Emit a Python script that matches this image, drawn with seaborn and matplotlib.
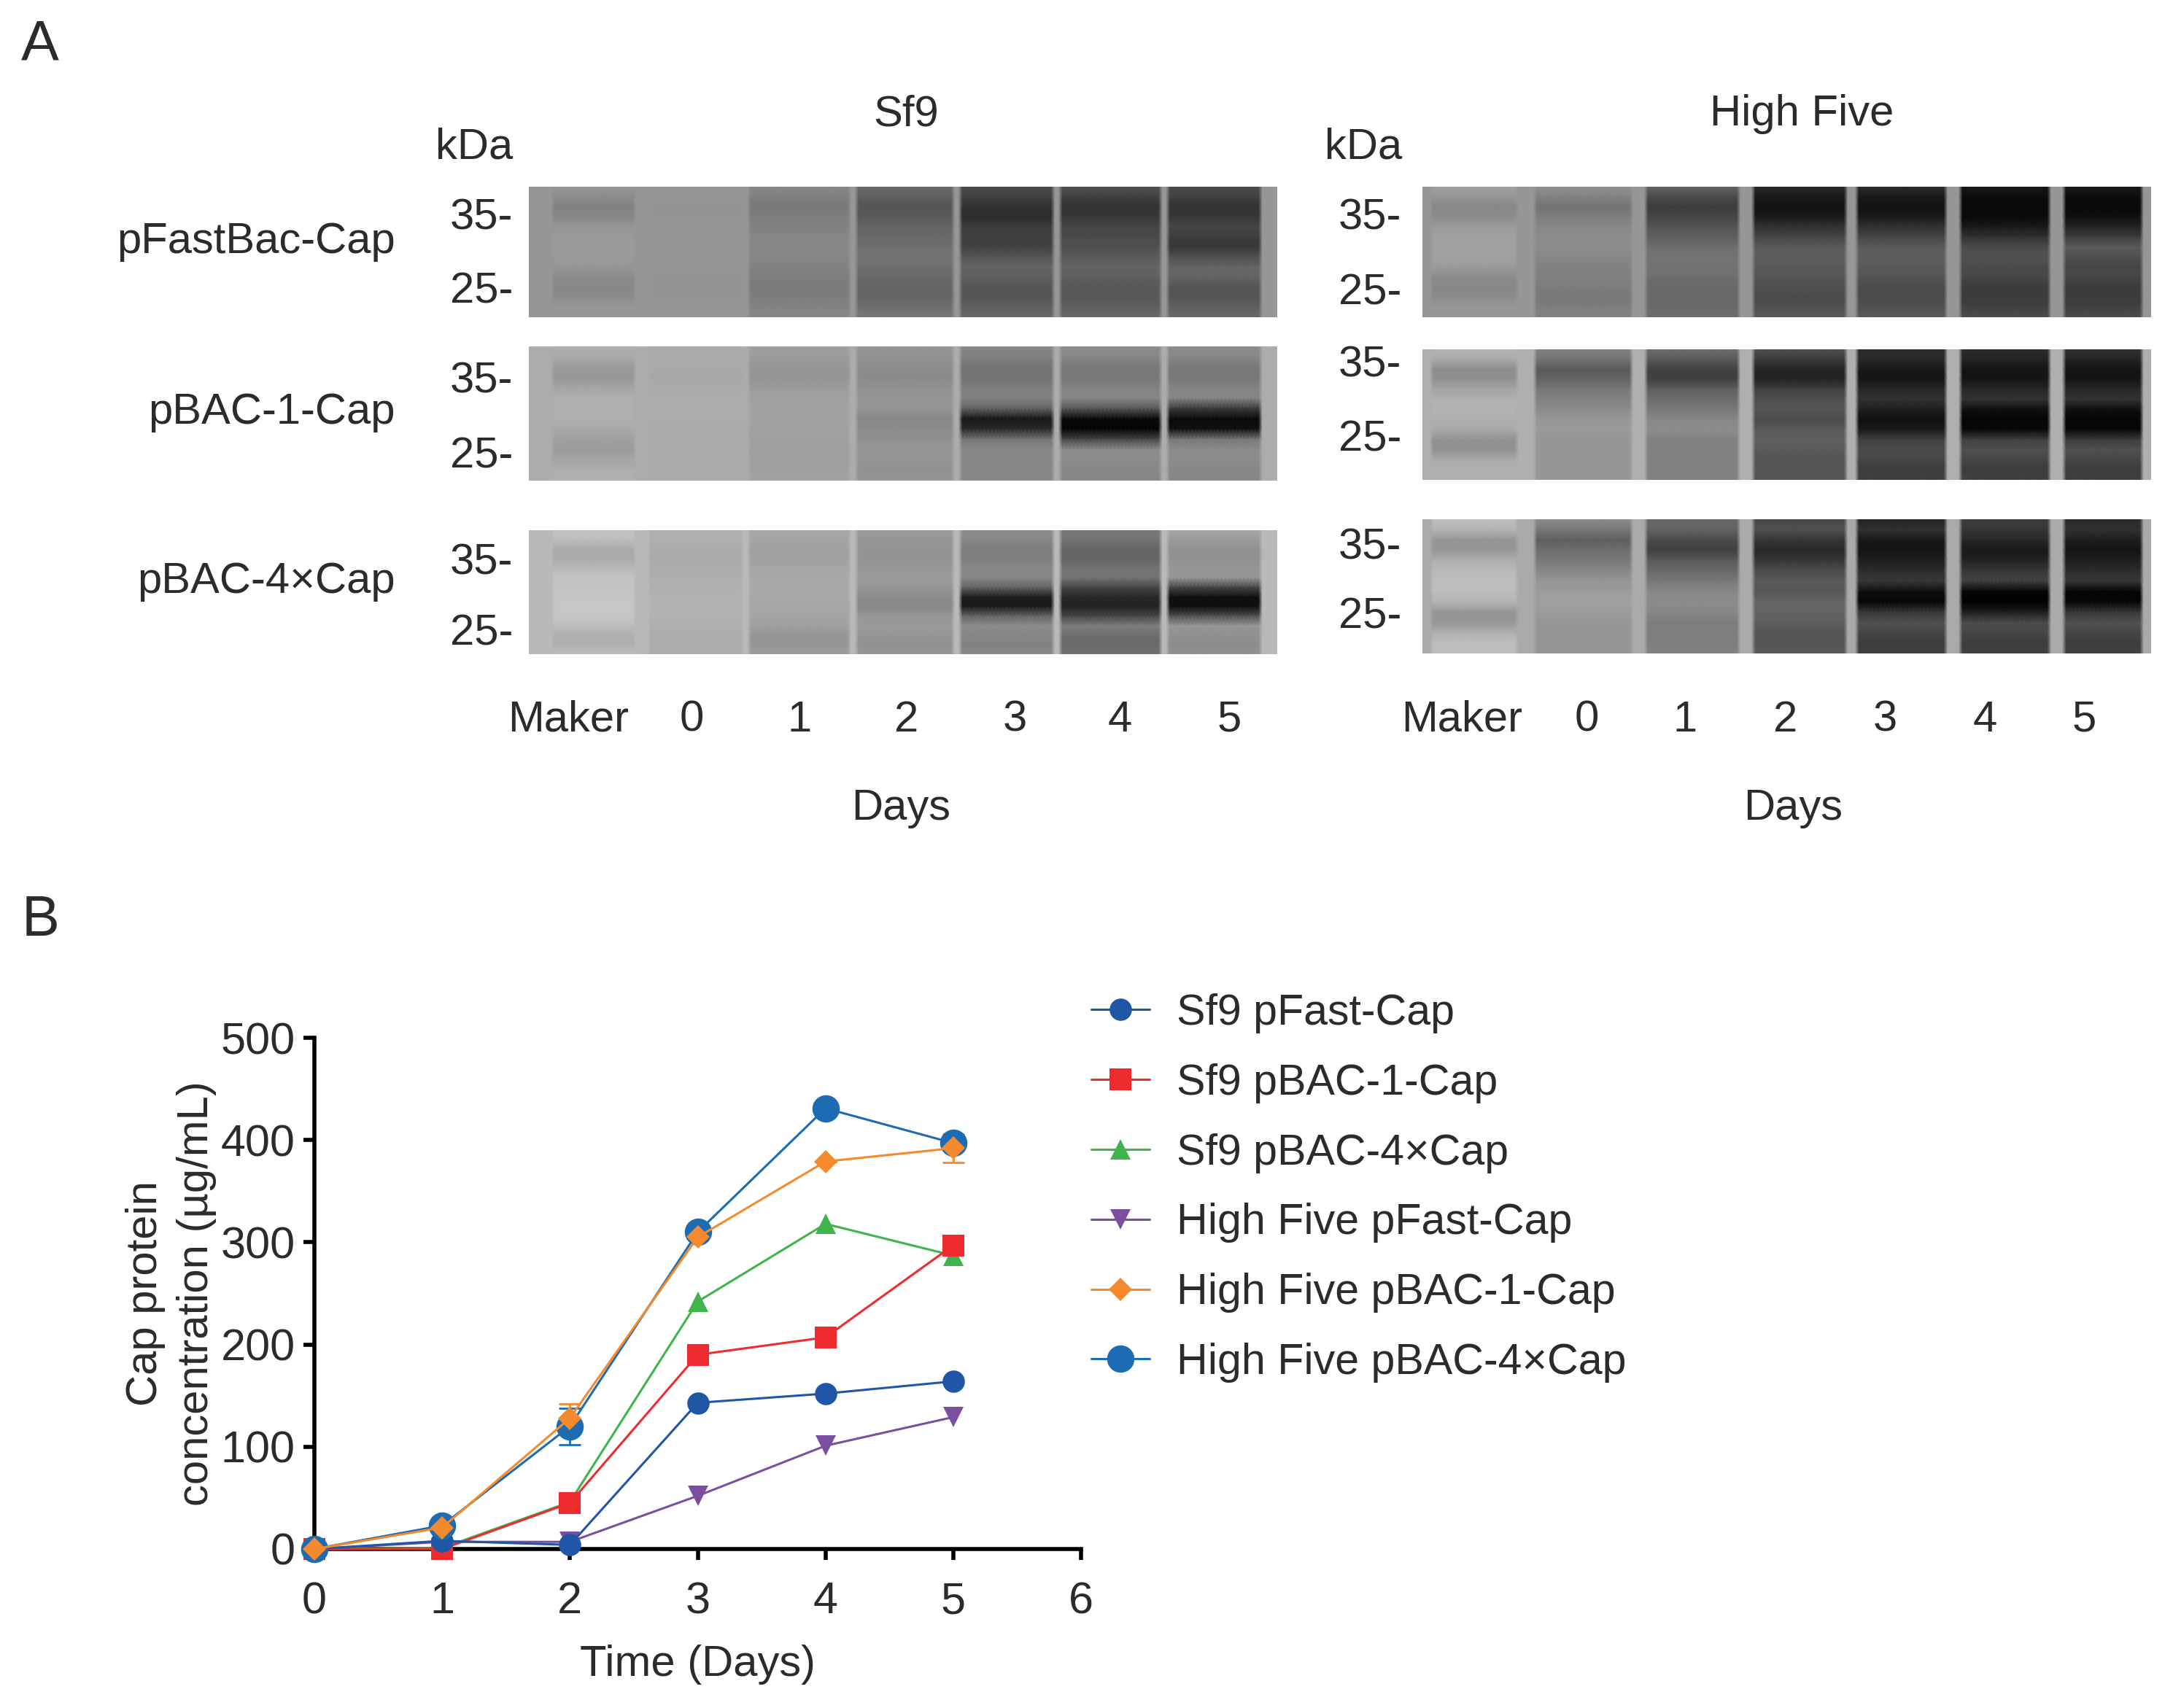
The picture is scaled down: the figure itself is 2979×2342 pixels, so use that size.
import numpy as np
import matplotlib
matplotlib.use("Agg")
import matplotlib.pyplot as plt
import seaborn as sns

sns.set_style("white")
plt.rcParams['font.family'] = ['Liberation Sans', 'DejaVu Sans']

W, H = 2979, 2342
DPI = 100
INK = "#2b2b2b"

# ---------- panel B data ----------
days = [0, 1, 2, 3, 4, 5]
series_names = ["Sf9 pFast-Cap", "Sf9 pBAC-1-Cap", "Sf9 pBAC-4×Cap",
                "High Five pFast-Cap", "High Five pBAC-1-Cap", "High Five pBAC-4×Cap"]
sf9_pfast = [0, 8, 4, 143, 152, 164]
sf9_pbac1 = [0, 0, 45, 190, 207, 297]
sf9_pbac4 = [0, 1, 46, 242, 318, 287]
hf_pfast = [0, 7, 7, 52, 101, 129]
hf_pbac1 = [0, 21, 128, 305, 379, 392]
hf_pbac4 = [0, 23, 120, 310, 431, 397]
hf_pbac1_err = [0, 0, 14, 0, 0, 14]
hf_pbac4_err = [0, 0, 18, 0, 0, 7]
series_values = [sf9_pfast, sf9_pbac1, sf9_pbac4, hf_pfast, hf_pbac1, hf_pbac4]
series_colors = ["#1f57a6", "#ee2b2f", "#3fb44c", "#7b4f9f", "#f58a2c", "#1c6bb3"]
series_markers = ["o", "s", "^", "v", "D", "o"]
series_msize = [22, 22, 20, 20, 16, 27]
series_z = [6, 5, 3, 4, 8, 7]

# ---------- panel A data: grey level per lane (Maker, 0..5), top to bottom ----------
gel_sf9_pfast = [
    [150, 140, 130, 135, 150, 155, 155, 155, 150, 140, 135, 140, 150, 150],
    [150, 150, 148, 148, 150, 150, 150, 150, 150, 148, 148, 148, 150, 150],
    [135, 128, 120, 125, 130, 135, 135, 135, 130, 125, 122, 125, 130, 135],
    [105, 95, 85, 90, 100, 105, 110, 115, 110, 105, 100, 100, 110, 120],
    [75, 65, 50, 45, 60, 65, 65, 85, 100, 95, 85, 85, 95, 105],
    [80, 65, 50, 55, 70, 75, 80, 90, 100, 95, 88, 88, 95, 105],
    [75, 65, 50, 55, 70, 60, 55, 80, 100, 100, 85, 85, 95, 105],
]
gel_sf9_pbac1 = [
    [175, 170, 155, 150, 165, 175, 175, 175, 170, 160, 155, 165, 175, 175],
    [170, 170, 170, 168, 170, 172, 172, 172, 170, 170, 170, 170, 170, 172],
    [160, 155, 150, 148, 155, 160, 162, 162, 160, 160, 158, 158, 160, 162],
    [150, 145, 140, 138, 145, 150, 150, 135, 140, 145, 150, 150, 145, 150],
    [135, 130, 115, 115, 125, 130, 100, 25, 40, 120, 135, 135, 135, 135],
    [140, 135, 120, 120, 130, 135, 90, 10, 5, 70, 140, 140, 135, 135],
    [140, 135, 120, 120, 130, 135, 60, 10, 15, 120, 140, 140, 135, 135],
]
gel_sf9_pbac4 = [
    [195, 190, 170, 170, 185, 195, 195, 198, 198, 198, 190, 175, 175, 190],
    [175, 175, 172, 170, 172, 175, 175, 178, 178, 178, 175, 172, 172, 172],
    [165, 165, 160, 160, 165, 168, 168, 168, 165, 165, 160, 150, 150, 155],
    [155, 150, 148, 148, 152, 155, 150, 140, 135, 150, 155, 150, 145, 150],
    [140, 135, 125, 125, 135, 135, 100, 30, 25, 100, 140, 135, 130, 135],
    [120, 115, 100, 100, 115, 115, 70, 40, 35, 70, 125, 110, 105, 110],
    [165, 155, 145, 145, 150, 150, 70, 15, 15, 80, 150, 145, 140, 145],
]
gel_hf_pfast = [
    [160, 150, 135, 140, 155, 160, 160, 160, 155, 140, 135, 140, 150, 150],
    [145, 130, 115, 125, 135, 140, 140, 135, 130, 128, 125, 120, 125, 130],
    [100, 75, 60, 70, 85, 95, 110, 115, 115, 110, 105, 105, 105, 110],
    [40, 25, 18, 25, 50, 70, 90, 95, 90, 85, 80, 75, 80, 90],
    [45, 25, 18, 25, 50, 70, 90, 95, 90, 85, 75, 75, 80, 90],
    [25, 12, 8, 10, 25, 50, 75, 80, 75, 70, 60, 60, 65, 75],
    [25, 12, 8, 15, 35, 60, 90, 80, 70, 70, 60, 60, 65, 75],
]
gel_hf_pbac1 = [
    [180, 170, 140, 145, 165, 175, 180, 175, 170, 145, 145, 170, 175, 175],
    [130, 115, 90, 100, 120, 130, 140, 150, 155, 150, 150, 150, 150, 150],
    [110, 90, 65, 65, 95, 110, 120, 135, 140, 130, 130, 130, 130, 130],
    [80, 60, 35, 35, 65, 80, 85, 75, 90, 95, 90, 85, 85, 85],
    [45, 40, 25, 20, 40, 50, 30, 15, 25, 65, 75, 70, 60, 65],
    [45, 35, 20, 20, 40, 50, 15, 5, 8, 65, 80, 70, 60, 65],
    [50, 35, 20, 20, 40, 50, 15, 5, 8, 60, 80, 70, 60, 65],
]
gel_hf_pbac4 = [
    [190, 180, 150, 150, 175, 185, 190, 190, 180, 150, 150, 175, 190, 190],
    [140, 120, 95, 110, 120, 135, 150, 155, 160, 155, 150, 150, 150, 150],
    [105, 100, 75, 65, 90, 105, 120, 135, 140, 135, 125, 125, 125, 130],
    [70, 80, 55, 40, 55, 75, 90, 85, 100, 100, 95, 85, 85, 90],
    [35, 50, 25, 20, 30, 45, 55, 15, 5, 55, 80, 70, 60, 65],
    [60, 55, 40, 25, 35, 55, 65, 5, 0, 30, 75, 70, 60, 65],
    [40, 50, 30, 20, 30, 45, 55, 5, 5, 55, 80, 70, 60, 65],
]
gap_grey = [150, 172, 185, 150, 175, 170]
gel_tables = [gel_sf9_pfast, gel_sf9_pbac1, gel_sf9_pbac4,
              gel_hf_pfast, gel_hf_pbac1, gel_hf_pbac4]

lane_labels = ["Maker", "0", "1", "2", "3", "4", "5"]
row_labels = ["pFastBac-Cap", "pBAC-1-Cap", "pBAC-4×Cap"]

# ---------- layout (pixels of the 2979x2342 figure) ----------
gel_boxes = [(725, 256, 1751, 435), (725, 475, 1751, 659), (725, 727, 1751, 897),
             (1950, 256, 2949, 435), (1950, 479, 2949, 658), (1950, 712, 2949, 896)]
lanes_sf9 = (35, [110, 125, 138, 133, 125, 138, 125], [20, 7, 12, 10, 12, 10], 26)
lanes_hf = (15, [115, 130, 125, 125, 122, 122, 108], [27, 20, 22, 18, 20, 22], 18)

fig = plt.figure(figsize=(W / DPI, H / DPI), dpi=DPI, facecolor="white")


def axes_px(x0, y0, x1, y1):
    return fig.add_axes([x0 / W, 1 - y1 / H, (x1 - x0) / W, (y1 - y0) / H])


def label(x, y, s, size=43, ha="center", rot=0):
    # x, y in coordinates of the 1568-wide preview of the reference
    fig.text(x * 1.9 / W, 1 - (y + 2.5) * 1.9 / H, s, fontsize=size, ha=ha, va="center",
             rotation=rot, color=INK)


def expand(table, layout, bg):
    lead, widths, gaps, margin = layout
    blank = [bg] * len(table[0])
    cols = [blank] * max(2, lead // 5)
    for i, lane in enumerate(table):
        cols += [lane] * max(2, widths[i] // 5)
        if i < len(gaps):
            cols += [blank] * max(2, gaps[i] // 5)
    cols += [blank] * max(2, margin // 5)
    return np.array(cols, dtype=float).T


for k, (table, box) in enumerate(zip(gel_tables, gel_boxes)):
    ax_g = axes_px(*box)
    img = expand(table, lanes_sf9 if k < 3 else lanes_hf, gap_grey[k])
    sns.heatmap(img, ax=ax_g, cmap="gray", vmin=0, vmax=255, cbar=False,
                xticklabels=False, yticklabels=False, shading="gouraud")
    ax_g.set_xlim(0, img.shape[1] - 1)
    ax_g.set_ylim(img.shape[0] - 1, 0)
    ax_g.axis("off")

# ---------- panel A texts ----------
label(29, 30, "A", size=56)
label(29, 662, "B", size=56)
label(654, 80, "Sf9")
label(1300, 80, "High Five")
label(342, 104, "kDa")
label(984, 104, "kDa")
for y, s in zip([172, 295, 417], row_labels):
    label(285, y, s, ha="right")
for y, s in zip([155, 208, 273, 327, 404, 455], ["35-", "25-"] * 3):
    label(370, y, s, ha="right")
for y, s in zip([155, 209, 261, 315, 393, 443], ["35-", "25-"] * 3):
    label(1011, y, s, ha="right")
for x, s in zip([410, 499, 577, 654, 732, 808, 887], lane_labels):
    label(x, 517, s)
for x, s in zip([1055, 1145, 1216, 1288, 1360, 1432, 1504], lane_labels):
    label(x, 517, s)
label(650, 581, "Days")
label(1294, 581, "Days")

# ---------- panel B ----------
ax = axes_px(431, 1423, 1482, 2124)
for name, vals, c, m, ms, z in zip(series_names, series_values, series_colors,
                                   series_markers, series_msize, series_z):
    sns.lineplot(x=days, y=vals, ax=ax, color=c, marker=m, markersize=ms,
                 markeredgewidth=0, linewidth=2.2, label=name, clip_on=False,
                 zorder=z, errorbar=None)
ax.errorbar(days, hf_pbac1, yerr=hf_pbac1_err, fmt="none", ecolor=series_colors[4],
            elinewidth=2, capsize=11, capthick=2, clip_on=False, zorder=2)
ax.errorbar(days, hf_pbac4, yerr=hf_pbac4_err, fmt="none", ecolor=series_colors[5],
            elinewidth=2, capsize=11, capthick=2, clip_on=False, zorder=2)

ax.set_xlim(0, 6)
ax.set_ylim(0, 500)
ax.set_xticks(range(7))
ax.set_yticks(range(0, 501, 100))
sns.despine(ax=ax)
for s in ("left", "bottom"):
    ax.spines[s].set_linewidth(4)
    ax.spines[s].set_color("black")
ax.tick_params(axis="both", direction="out", length=11, width=4, color="black",
               labelsize=44, labelcolor=INK, bottom=True, left=True)
ax.tick_params(axis="x", pad=21)
ax.tick_params(axis="y", pad=8)
ax.set_xlabel("Time (Days)", fontsize=43, color=INK, labelpad=21)
ax.set_ylabel("Cap protein\nconcentration (µg/mL)", fontsize=43, color=INK, labelpad=4,
              linespacing=1.35)

leg = ax.legend(loc="upper left", bbox_to_anchor=(1496 / W, 1 - 1362 / H),
                bbox_transform=fig.transFigure, frameon=False, fontsize=42.6,
                labelspacing=0.69, handlelength=1.35, handletextpad=0.62,
                borderpad=0, borderaxespad=0)
for t in leg.get_texts():
    t.set_color(INK)

fig.savefig("out.png", dpi=DPI, facecolor="white")
